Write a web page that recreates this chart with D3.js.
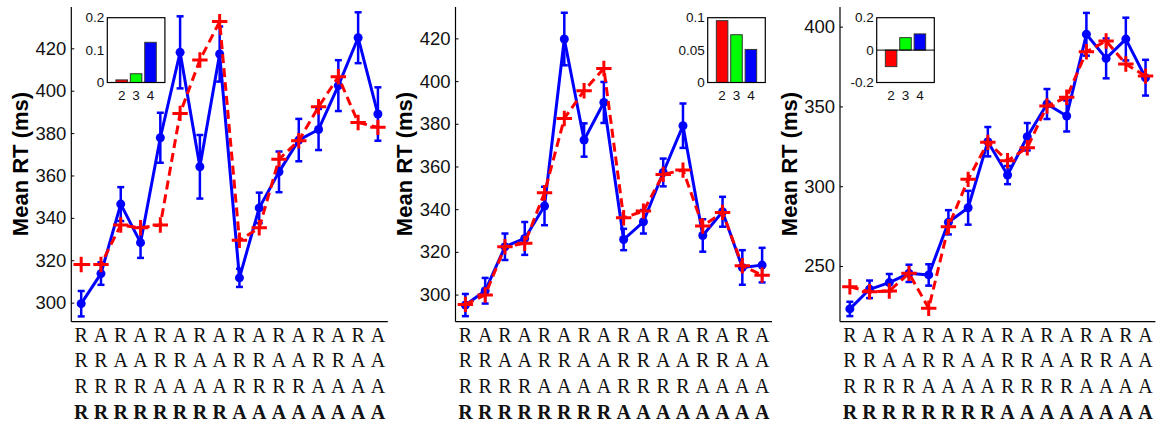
<!DOCTYPE html>
<html>
<head>
<meta charset="utf-8">
<script src="https://cdn.jsdelivr.net/npm/d3@7"></script>
<style>
body { margin:0; background:#fff; }
svg { display:block; }
</style>
</head>
<body>
<div id="chart"></div>
<script>
// sequence labels under the x axis
var seqRow1 = ['R','A','R','A','R','A','R','A','R','A','R','A','R','A','R','A'];
var seqRow2 = ['R','R','A','A','R','R','A','A','R','R','A','A','R','R','A','A'];
var seqRow3 = ['R','R','R','R','A','A','A','A','R','R','R','R','A','A','A','A'];
var seqRow4 = ['R','R','R','R','R','R','R','R','A','A','A','A','A','A','A','A'];

// panel 1
var p1Obs = [299.5, 313.7, 346.5, 328.3, 377.8, 418.1, 364.1, 417.3, 311.7, 344.7, 361.7, 376.7, 381.7, 402.4, 425, 389];
var p1Err = [6, 5.3, 8, 7.2, 11.8, 17, 15, 13, 4.3, 7.2, 9.6, 10, 9.7, 12, 12, 12.6];
var p1Model = [318, 318, 336.6, 335.3, 336.6, 389.3, 414.5, 432.6, 329.4, 335.3, 367.7, 376.4, 392.4, 406.6, 385, 382.7];
var p1Ticks = [300, 320, 340, 360, 380, 400, 420];
var p1Inset = [0.008, 0.027, 0.124];
var p1InsetTicks = [0, 0.1, 0.2];

// panel 2
var p2Obs = [295.1, 301.8, 322.4, 326.3, 341.5, 419.7, 372.4, 390, 325.8, 334.1, 357.2, 379.1, 327.7, 338.8, 312.7, 313.8];
var p2Err = [5.2, 6, 6.2, 7.7, 9, 12.3, 7.8, 9.6, 5, 5.5, 6.5, 10.4, 7.6, 7, 8.1, 8.1];
var p2Model = [295.4, 299.8, 322.4, 324, 347.7, 382.5, 395.5, 405.9, 336, 339.1, 356.3, 358.3, 332.1, 338.5, 313.5, 309.1];
var p2Ticks = [300, 320, 340, 360, 380, 400, 420];
var p2Inset = [0.0954, 0.0737, 0.051];
var p2InsetTicks = [0, 0.05, 0.1];

// panel 3
var p3Obs = [223.1, 235.4, 239.6, 245.4, 244.4, 277.4, 286.5, 327.9, 307, 331, 351.5, 344, 395.2, 380.1, 392.2, 368];
var p3Err = [4.5, 5.5, 5.4, 5.4, 6.7, 7.6, 10.6, 9.2, 5.7, 8.6, 9.4, 9.7, 13.4, 12.5, 13.4, 11.2];
var p3Model = [237, 233.9, 234.3, 245.4, 223.5, 274.6, 304.3, 327.5, 316, 324.1, 350.3, 355.7, 384.3, 391, 376.6, 369];
var p3Ticks = [250, 300, 350, 400];
var p3Inset = [-0.102, 0.077, 0.1];
var p3InsetTicks = [-0.2, 0, 0.2];

var insetCats = [2, 3, 4];
var insetColors = ['#ff0000', '#00ff00', '#0000ff'];

var svgWidth = 1156;
var svgHeight = 423;

var svg = d3.select('#chart')
	.append('svg')
	.attr('width', svgWidth)
	.attr('height', svgHeight);

var panels = [
	{left:71.3, right:387.8, yDomain:[291, 439.5], obs:p1Obs, err:p1Err, model:p1Model, ticks:p1Ticks,
	 inset:p1Inset, insetTicks:p1InsetTicks, insetDomain:[0, 0.2], insetX:107.3},
	{left:455.5, right:772, yDomain:[287.3, 434.7], obs:p2Obs, err:p2Err, model:p2Model, ticks:p2Ticks,
	 inset:p2Inset, insetTicks:p2InsetTicks, insetDomain:[0, 0.1], insetX:707.7},
	{left:840, right:1155.4, yDomain:[215.1, 412.3], obs:p3Obs, err:p3Err, model:p3Model, ticks:p3Ticks,
	 inset:p3Inset, insetTicks:p3InsetTicks, insetDomain:[-0.2, 0.2], insetX:876.7}
];

var plotTop = 7, plotBottom = 321.7;
var idx = d3.range(1, 17);

panels.forEach(function (p) {
	var x = d3.scaleLinear().domain([0.5, 16.5]).range([p.left, p.right]);
	var y = d3.scaleLinear().domain(p.yDomain).range([plotBottom, plotTop]);

	// y axis with inward ticks
	var yAxis = svg.append('g')
		.attr('transform', 'translate(' + p.left + ',0)')
		.call(d3.axisLeft(y).tickValues(p.ticks).tickSize(-3).tickSizeOuter(0).tickPadding(5));
	yAxis.select('.domain').remove();
	yAxis.selectAll('.tick line').attr('stroke', '#000');
	yAxis.selectAll('.tick text')
		.style('font-family', '"Liberation Sans", Arial, sans-serif')
		.style('font-size', '18.5px')
		.attr('fill', '#111');

	// axis lines (box off)
	svg.append('line')
		.attr('x1', p.left).attr('x2', p.left)
		.attr('y1', plotTop).attr('y2', plotBottom)
		.attr('stroke', '#000').attr('stroke-width', 1.2);
	svg.append('line')
		.attr('x1', p.left).attr('x2', p.right)
		.attr('y1', plotBottom).attr('y2', plotBottom)
		.attr('stroke', '#000').attr('stroke-width', 1.2);

	// y label
	svg.append('text')
		.attr('transform', 'translate(' + (p.left - 43.5) + ',164) rotate(-90)')
		.attr('text-anchor', 'middle')
		.style('font-family', '"Liberation Sans", Arial, sans-serif')
		.style('font-size', '22px')
		.style('font-weight', 'bold')
		.text('Mean RT (ms)');

	// observed: error bars, line, dots
	var g = svg.append('g');
	idx.forEach(function (i, k) {
		var cx = x(i);
		var hi = y(p.obs[k] + p.err[k]);
		var lo = y(p.obs[k] - p.err[k]);
		g.append('line').attr('x1', cx).attr('x2', cx).attr('y1', hi).attr('y2', lo)
			.attr('stroke', '#0000ff').attr('stroke-width', 2.5);
		g.append('line').attr('x1', cx - 3.5).attr('x2', cx + 3.5).attr('y1', hi).attr('y2', hi)
			.attr('stroke', '#0000ff').attr('stroke-width', 2.5);
		g.append('line').attr('x1', cx - 3.5).attr('x2', cx + 3.5).attr('y1', lo).attr('y2', lo)
			.attr('stroke', '#0000ff').attr('stroke-width', 2.5);
	});
	g.append('path')
		.datum(p.obs)
		.attr('fill', 'none')
		.attr('stroke', '#0000ff')
		.attr('stroke-width', 3)
		.attr('stroke-linejoin', 'round')
		.attr('d', d3.line().x(function (d, k) {return x(idx[k]);}).y(function (d) {return y(d);}));
	g.selectAll('circle')
		.data(p.obs)
		.enter()
		.append('circle')
		.attr('cx', function (d, k) {return x(idx[k]);})
		.attr('cy', function (d) {return y(d);})
		.attr('r', 4.5)
		.attr('fill', '#0000ff');

	// model: dashed line with plus markers
	var m = svg.append('g');
	m.append('path')
		.datum(p.model)
		.attr('fill', 'none')
		.attr('stroke', '#ff0000')
		.attr('stroke-width', 3)
		.attr('stroke-dasharray', '9,5')
		.attr('d', d3.line().x(function (d, k) {return x(idx[k]);}).y(function (d) {return y(d);}));
	m.selectAll('path.plus')
		.data(p.model)
		.enter()
		.append('path')
		.attr('class', 'plus')
		.attr('d', function (d, k) {
			var cx = x(idx[k]), cy = y(d);
			return 'M' + (cx - 7.7) + ',' + cy + 'H' + (cx + 7.7) + 'M' + cx + ',' + (cy - 7.7) + 'V' + (cy + 7.7);
		})
		.attr('stroke', '#ff0000')
		.attr('stroke-width', 3)
		.attr('fill', 'none');

	// letter rows
	[seqRow1, seqRow2, seqRow3, seqRow4].forEach(function (row, r) {
		svg.append('g')
			.selectAll('text')
			.data(row)
			.enter()
			.append('text')
			.attr('x', function (d, k) {return x(idx[k]);})
			.attr('y', 341.7 + r * 25.6)
			.attr('text-anchor', 'middle')
			.style('font-family', '"Liberation Serif", "Times New Roman", serif')
			.style('font-size', '20px')
			.style('font-weight', r == 3 ? 'bold' : 'normal')
			.attr('fill', '#111')
			.text(function (d) {return d;});
	});

	// inset bar chart
	var ix = d3.scaleLinear().domain([1, 5]).range([p.insetX, p.insetX + 57.6]);
	var iy = d3.scaleLinear().domain(p.insetDomain).range([82.5, 17.7]);
	var ins = svg.append('g');
	ins.append('rect')
		.attr('x', ix(1)).attr('y', iy(p.insetDomain[1]))
		.attr('width', ix(5) - ix(1)).attr('height', iy(p.insetDomain[0]) - iy(p.insetDomain[1]))
		.attr('fill', '#fff');
	ins.selectAll('rect.bar')
		.data(p.inset)
		.enter()
		.append('rect')
		.attr('class', 'bar')
		.attr('x', function (d, k) {return ix(insetCats[k] - 0.4);})
		.attr('width', ix(1.8) - ix(1))
		.attr('y', function (d) {return Math.min(iy(d), iy(0));})
		.attr('height', function (d) {return Math.abs(iy(d) - iy(0));})
		.attr('fill', function (d, k) {return insetColors[k];})
		.attr('stroke', '#333')
		.attr('stroke-width', 1);
	if (p.insetDomain[0] < 0) {
		ins.append('line')
			.attr('x1', ix(1)).attr('x2', ix(5))
			.attr('y1', iy(0)).attr('y2', iy(0))
			.attr('stroke', '#000').attr('stroke-width', 1);
	}
	ins.append('rect')
		.attr('x', ix(1)).attr('y', iy(p.insetDomain[1]))
		.attr('width', ix(5) - ix(1)).attr('height', iy(p.insetDomain[0]) - iy(p.insetDomain[1]))
		.attr('fill', 'none')
		.attr('stroke', '#000')
		.attr('stroke-width', 1.2);
	ins.selectAll('text.yt')
		.data(p.insetTicks)
		.enter()
		.append('text')
		.attr('class', 'yt')
		.attr('x', ix(1) - 3)
		.attr('y', function (d) {return iy(d);})
		.attr('dy', '0.35em')
		.attr('text-anchor', 'end')
		.style('font-family', '"Liberation Sans", Arial, sans-serif')
		.style('font-size', '13.5px')
		.attr('fill', '#111')
		.text(function (d) {return String(d);});
	ins.selectAll('text.xt')
		.data(insetCats)
		.enter()
		.append('text')
		.attr('class', 'xt')
		.attr('x', function (d) {return ix(d);})
		.attr('y', 99.5)
		.attr('text-anchor', 'middle')
		.style('font-family', '"Liberation Sans", Arial, sans-serif')
		.style('font-size', '13.5px')
		.attr('fill', '#111')
		.text(function (d) {return d;});
});
</script>
</body>
</html>
